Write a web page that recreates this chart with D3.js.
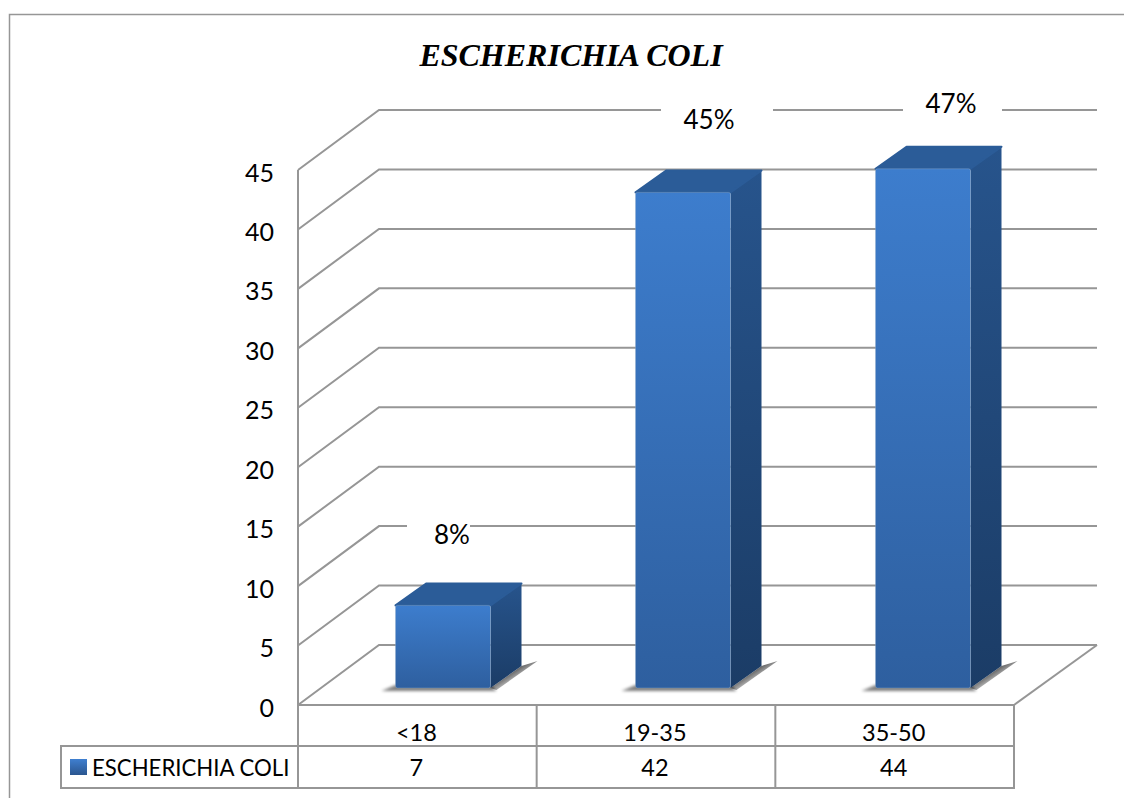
<!DOCTYPE html>
<html>
<head>
<meta charset="utf-8">
<script src="https://cdn.jsdelivr.net/npm/d3@7"></script>
<style>
  html, body { margin: 0; padding: 0; background: #fff; }
  svg { display: block; }
  text { font-family: Lato, "Open Sans", sans-serif; fill: #000; }
</style>
</head>
<body>
<svg id="chart" width="1124" height="798"></svg>
<script>
const chartTitle = "ESCHERICHIA COLI";
const seriesName = "ESCHERICHIA COLI";
const categories = ["<18", "19-35", "35-50"];
const values = [7, 42, 44];
const percentLabels = ["8%", "45%", "47%"];
const tickValues = [0, 5, 10, 15, 20, 25, 30, 35, 40, 45];

const grey = "#969696";
const svg = d3.select("#chart");

// Front plane of the 3-D box and how far the back wall is pushed away from it
const x = d3.scaleBand().domain(categories).range([298, 1014]);
const y = d3.scaleLinear().domain([0, 45]).range([705, 170]);
const wall = { dx: 81, dy: -60 };
const wallRight = 1097;

// Columns stand part-way into the floor, so they get their own scales
const xBar = d3.scaleBand().domain(categories).range([323, 1043]);
const yBar = d3.scaleLinear().domain([0, 45]).range([688, 157]);
const barWidth = 95;
const barDepth = { dx: 31, dy: -22 };
const barLeft = c => xBar(c) + xBar.bandwidth() / 2 - barWidth / 2;

const defs = svg.append("defs");
// Each face shades from top to bottom over its own height
function gradient(id, top, bottom) {
  const g = defs.append("linearGradient").attr("id", id)
    .attr("x1", 0).attr("x2", 0).attr("y1", 0).attr("y2", 1);
  g.append("stop").attr("offset", 0).attr("stop-color", top);
  g.append("stop").attr("offset", 1).attr("stop-color", bottom);
}
gradient("frontFill", "#3d7dcd", "#2e5f9f");
gradient("sideFill", "#27548c", "#1b3c66");
gradient("swatchFill", "#3f7fd0", "#2b568f");

// Floor shadow fades away from the column's right side
const fade = defs.append("linearGradient").attr("id", "shadowFade")
  .attr("x1", 0.42).attr("y1", 0.42).attr("x2", 0.72).attr("y2", 0.72);
fade.append("stop").attr("offset", 0).attr("stop-color", "#000").attr("stop-opacity", 0.6);
fade.append("stop").attr("offset", 1).attr("stop-color", "#000").attr("stop-opacity", 0);

const soft = defs.append("filter").attr("id", "soft")
  .attr("filterUnits", "userSpaceOnUse").attr("x", 0).attr("y", 0).attr("width", 1124).attr("height", 798);
soft.append("feGaussianBlur").attr("stdDeviation", 1.5);

// Outer chart frame
svg.append("path").attr("fill", "none").attr("stroke", grey).attr("stroke-width", 1.5)
  .attr("d", "M9.5,798V14.5H1124");

// Back wall gridlines and the diagonals running down the side wall
const grid = svg.append("g").attr("fill", "none").attr("stroke", grey).attr("stroke-width", 2);
tickValues.forEach(t => {
  const yf = y(t), yb = yf + wall.dy, xb = x.range()[0] + wall.dx;
  grid.append("path").attr("d", `M${x.range()[0]},${yf}L${xb},${yb}H${wallRight}`);
});
// Floor edge from the back right corner to the front right corner
grid.append("path").attr("d", `M${wallRight},${y(0) + wall.dy}L${x.range()[1]},${y(0)}`);

// Columns: shadows, then side, top and front faces
const bars = svg.selectAll("g.bar").data(categories.map((c, i) => ({ c, v: values[i] })))
  .join("g").attr("class", "bar");

bars.append("path").attr("fill", "#000").attr("opacity", 0.5).attr("filter", "url(#soft)")
  .attr("d", d => {
    const l = barLeft(d.c), r = l + barWidth, b = yBar(0);
    return `M${l - 14},${b + 3}L${l},${b - 3}H${r}L${r + 6},${b + 3}Z`;
  });

bars.append("path").attr("fill", "url(#shadowFade)")
  .attr("d", d => {
    const r = barLeft(d.c) + barWidth, b = yBar(0);
    return `M${r},${b}L${r + barDepth.dx},${b + barDepth.dy}L${r + barDepth.dx + 16},${b + barDepth.dy - 5}L${r + 6},${b + 2}Z`;
  });

bars.append("path").attr("fill", "url(#sideFill)")
  .attr("d", d => {
    const r = barLeft(d.c) + barWidth, t = yBar(d.v), b = yBar(0);
    return `M${r},${t}L${r + barDepth.dx},${t + barDepth.dy}V${b + barDepth.dy}L${r},${b}Z`;
  });

bars.append("path").attr("fill", "#2b5c98").attr("stroke", "#2b5c98").attr("stroke-width", 2).attr("stroke-linejoin", "round")
  .attr("d", d => {
    const l = barLeft(d.c), t = yBar(d.v);
    return `M${l},${t}L${l + barDepth.dx},${t + barDepth.dy}H${l + barWidth + barDepth.dx}L${l + barWidth},${t}Z`;
  });

bars.append("rect").attr("fill", "url(#frontFill)").attr("rx", 2)
  .attr("x", d => barLeft(d.c)).attr("width", barWidth)
  .attr("y", d => yBar(d.v)).attr("height", d => yBar(0) - yBar(d.v))
  .attr("stroke", "#8fa9c9").attr("stroke-opacity", 0.5).attr("stroke-width", 0.8);

// Percentage labels sit on white boxes that interrupt the gridlines
const labelPos = [
  { cx: 452, cy: 534, left: 407, right: 470 },
  { cx: 709, cy: 119, left: 661, right: 773 },
  { cx: 951, cy: 103, left: 903, right: 1002 }
];
const labels = svg.selectAll("g.pct").data(percentLabels).join("g").attr("class", "pct");
labels.append("rect").attr("fill", "#fff")
  .attr("x", (d, i) => labelPos[i].left)
  .attr("y", (d, i) => labelPos[i].cy - 19)
  .attr("width", (d, i) => labelPos[i].right - labelPos[i].left).attr("height", 38);
labels.append("text").text(d => d)
  .attr("x", (d, i) => labelPos[i].cx).attr("y", (d, i) => labelPos[i].cy)
  .attr("text-anchor", "middle").attr("dominant-baseline", "central")
  .attr("font-size", 26);

// Value axis
const axis = svg.append("g").attr("transform", `translate(${x.range()[0]},3)`)
  .call(d3.axisLeft(y).tickValues(tickValues).tickSize(0).tickPadding(24));
axis.select(".domain").remove();
axis.selectAll("text").attr("font-size", 25).attr("font-family", "Lato, 'Open Sans', sans-serif").attr("fill", "#000");

// Data table under the plot
const rowTop = 746, rowBottom = 788, legendLeft = 61;
const table = svg.append("g").attr("fill", "none").attr("stroke", grey).attr("stroke-width", 2);
table.append("path").attr("d", `M${x.range()[0]},${y(45)}V${rowBottom}`);
table.append("path").attr("d", `M${x.range()[0]},${y(0)}H${x.range()[1]}V${rowBottom}H${legendLeft}V${rowTop}H${x.range()[1]}`);
categories.slice(1).forEach(c => {
  table.append("path").attr("d", `M${x(c)},${y(0)}V${rowBottom}`);
});

svg.selectAll("text.cat").data(categories).join("text").attr("class", "cat")
  .attr("x", c => x(c) + x.bandwidth() / 2 - 1).attr("y", 732)
  .attr("text-anchor", "middle").attr("dominant-baseline", "central").attr("font-size", 23.5)
  .text(c => c);
svg.selectAll("text.val").data(values).join("text").attr("class", "val")
  .attr("x", (v, i) => x(categories[i]) + x.bandwidth() / 2 - 1).attr("y", 767)
  .attr("text-anchor", "middle").attr("dominant-baseline", "central").attr("font-size", 23.5)
  .text(v => v);

// Legend key and series name in the table's first column
svg.append("rect").attr("x", 70).attr("y", 759).attr("width", 17).attr("height", 16).attr("fill", "url(#swatchFill)");
svg.append("text").attr("x", 92).attr("y", 767).attr("dominant-baseline", "central")
  .attr("font-size", 22.2).text(seriesName);

// Title
svg.append("text").attr("x", 571).attr("y", 66).attr("text-anchor", "middle")
  .style("font-family", "'Liberation Serif', serif").attr("font-size", 32)
  .attr("font-weight", "bold").attr("font-style", "italic").text(chartTitle);
</script>
</body>
</html>
